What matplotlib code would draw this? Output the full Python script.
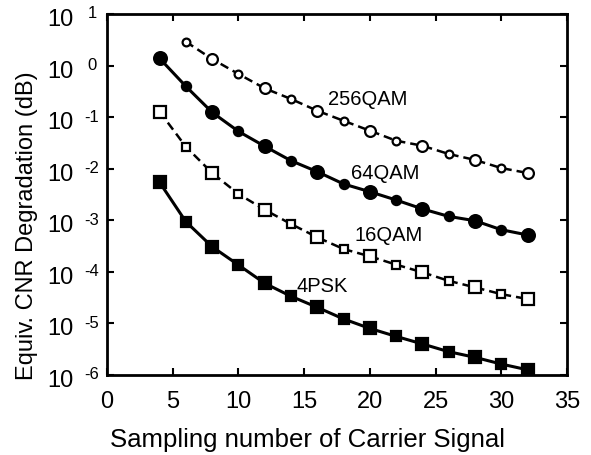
import numpy as np
import matplotlib
matplotlib.use("Agg")
import matplotlib.pyplot as plt
from matplotlib import transforms

plt.rcParams['font.family'] = ['Liberation Sans', 'DejaVu Sans']

# ---- data ----
x_all = [4, 6, 8, 10, 12, 14, 16, 18, 20, 22, 24, 26, 28, 30, 32]
x_256 = [6, 8, 10, 12, 14, 16, 18, 20, 22, 24, 26, 28, 30, 32]
qam256 = [2.9, 1.34, 0.687, 0.362, 0.225, 0.133, 0.085, 0.0546, 0.0349,
          0.0279, 0.0193, 0.0148, 0.0103, 0.00826]
qam64 = [1.38, 0.396, 0.124, 0.053, 0.0272, 0.0143, 0.00875, 0.00506,
         0.00358, 0.00247, 0.00166, 0.00119, 0.00098, 0.000656, 0.000519]
qam16 = [0.128, 0.0267, 0.00826, 0.00324, 0.0016, 0.000847, 0.000468,
         0.000277, 0.0002, 0.000138, 9.8e-5, 6.7e-5, 5.0e-5, 3.7e-5, 2.97e-5]
psk4 = [0.00545, 0.00094, 0.000307, 0.000136, 6.0e-5, 3.36e-5, 2.05e-5,
        1.22e-5, 8.0e-6, 5.6e-6, 4.0e-6, 2.83e-6, 2.2e-6, 1.63e-6, 1.26e-6]

labels = ['256QAM', '64QAM', '16QAM', '4PSK']
label_pos = [(16.8, 0.225), (18.6, 0.00863), (18.8, 5.42e-4), (14.4, 5.4e-5)]

x_ticks = [0, 5, 10, 15, 20, 25, 30, 35]
y_exps = [1, 0, -1, -2, -3, -4, -5, -6]

xlabel = 'Sampling number of Carrier Signal'
ylabel = 'Equiv. CNR Degradation (dB)'

# ---- figure ----
fig = plt.figure(figsize=(5.91, 4.56), dpi=100)
ax = fig.add_axes([107/591, 80/456, 460/591, 361/456])
ax.set_yscale('log')
ax.set_xlim(0, 35)
ax.set_ylim(1e-6, 1e1)

series = [
    (x_256, qam256, 'o', 'white', (0, (3.5, 2)), 1.8, 7.8, 5.6),
    (x_all, qam64, 'o', 'black', '-', 2.2, 9.2, 6.6),
    (x_all, qam16, 's', 'white', (0, (3.5, 2)), 1.8, 8.2, 6.2),
    (x_all, psk4, 's', 'black', '-', 2.2, 8.0, 7.0),
]
for xs, ys, mk, fc, ls, lw, big, small in series:
    xs = np.array(xs); ys = np.array(ys)
    ax.plot(xs, ys, color='black', lw=lw, linestyle=ls, zorder=2)
    m = (xs % 4 == 0)
    ax.plot(xs[m], ys[m], linestyle='none', marker=mk, ms=big, mfc=fc,
            mec='black', mew=1.6, zorder=3)
    ax.plot(xs[~m], ys[~m], linestyle='none', marker=mk, ms=small, mfc=fc,
            mec='black', mew=1.6, zorder=3)

for lab, (lx, ly) in zip(labels, label_pos):
    ax.text(lx, ly, lab, fontsize=14.5, ha='left', va='center', zorder=4)

# ticks
ax.set_xticks(x_ticks)
ax.set_xticklabels([str(t) for t in x_ticks], fontsize=17)
ax.set_yticks([10.0**e for e in y_exps])
ax.set_yticklabels([])
ax.yaxis.set_minor_locator(matplotlib.ticker.NullLocator())
ax.tick_params(direction='in', length=5, width=1.5, top=True, right=True)
ax.tick_params(axis='x', pad=11)
for sp in ax.spines.values():
    sp.set_linewidth(2)

ytr = ax.get_yaxis_transform()
tr10 = transforms.offset_copy(ytr, fig=fig, x=0, y=-5, units='dots')
trex = transforms.offset_copy(ytr, fig=fig, x=0, y=1, units='dots')
for e in y_exps:
    ax.text(-0.0739, 10.0**e, '10', transform=tr10, ha='right', va='center',
            fontsize=17, clip_on=False)
    ax.text(-0.0326, 10.0**e, str(e), transform=trex,
            ha='center', va='center', fontsize=12, clip_on=False)

fig.text(308/591, 1 - 440/456, xlabel, ha='center', va='center', fontsize=18.5)
fig.text(27/591, 1 - 226/456, ylabel, ha='center', va='center', fontsize=17,
         rotation=90)

fig.savefig('out.png', dpi=100)
